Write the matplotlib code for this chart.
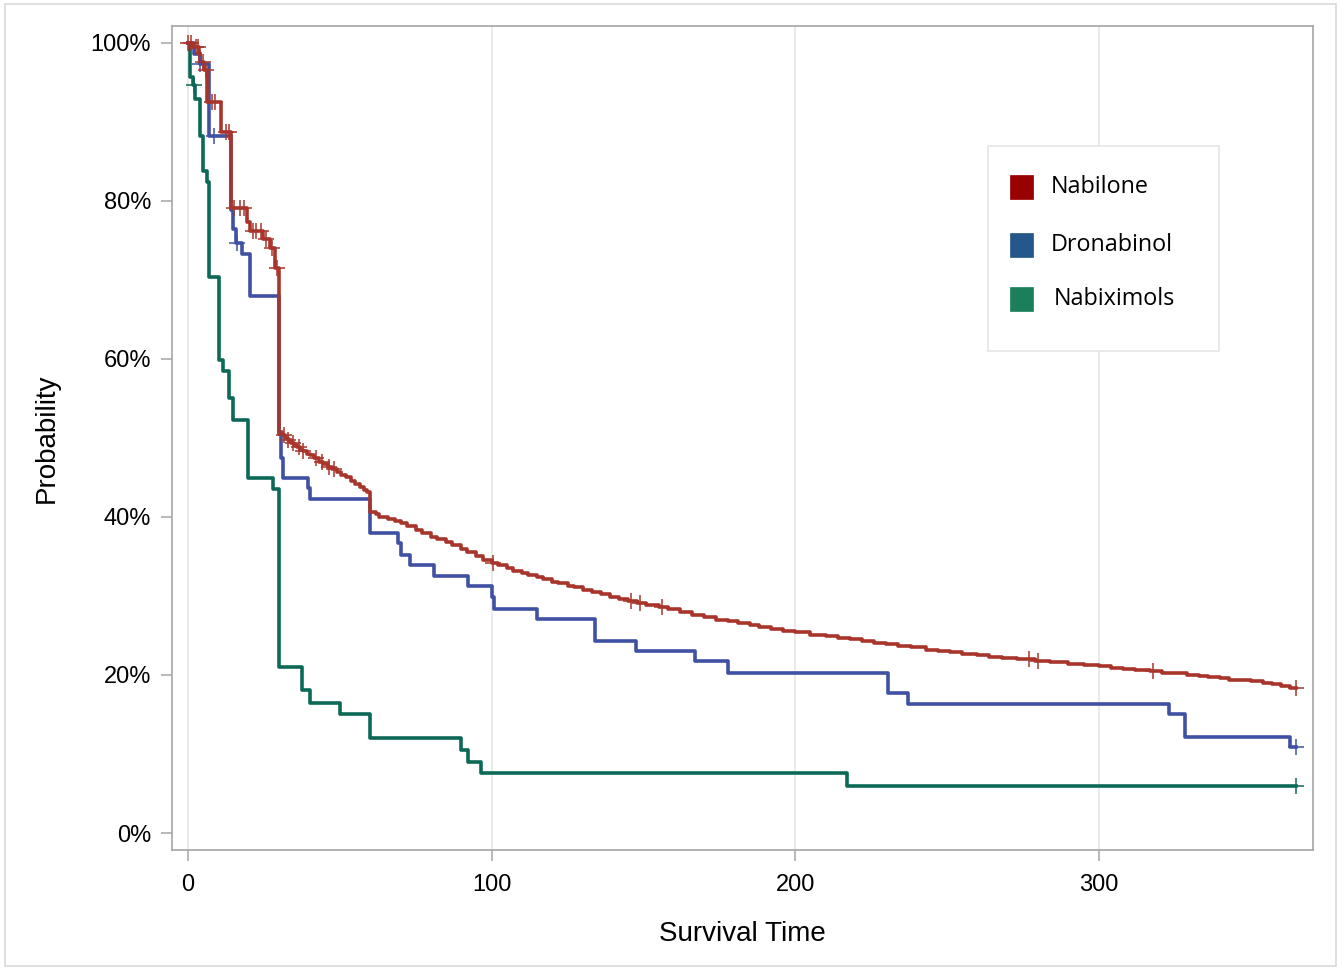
import numpy as np
import matplotlib
matplotlib.use("Agg")
import matplotlib.pyplot as plt
from matplotlib.patches import Rectangle

plt.rcParams["font.family"] = ["Liberation Sans", "DejaVu Sans"]

# Kaplan-Meier curves (time in days, survival in %)
nabilone_t = [0, 1.5, 3.5, 4, 5.3, 6.3, 10.9, 14, 19.4, 20.4, 24.7, 27, 28.7,
              30, 31, 32, 33, 34, 35, 36, 37, 38, 39, 40, 41.5, 43, 44.5, 46, 47.5,
              49, 50.5, 52, 53.5, 55, 56.5, 58, 59,
              60, 62, 63, 66, 68, 70, 72, 75, 77, 80, 82, 85, 87, 90, 92, 95, 97,
              100, 102, 105, 107, 110, 112, 115, 117, 120, 122, 125, 127, 130, 133,
              136, 139, 142, 145, 148, 151, 155, 158, 162, 166, 170, 174, 178, 181,
              185, 188, 192, 196, 200, 205, 210, 214, 218, 222, 226, 230, 234, 238,
              243, 247, 251, 255, 260, 264, 268, 273, 279, 284, 290, 295, 300, 304,
              308, 312, 317, 321, 325, 329, 333, 336, 340, 343, 347, 350, 354, 357,
              360, 363, 365]
nabilone_s = [100, 99.5, 98.7, 97.6, 96.6, 92.5, 88.7, 79.1, 77.3, 76.2, 75.2, 74.0, 71.5,
              50.7, 50.3, 50.0, 49.7, 49.4, 49.1, 48.8, 48.5, 48.3, 48.0, 47.8, 47.4, 47.0, 46.7, 46.3, 46.0,
              45.7, 45.3, 45.0, 44.6, 44.2, 43.8, 43.4, 43.1,
              40.6, 40.3, 40.0, 39.7, 39.5, 39.2, 38.9, 38.4, 38.0, 37.5, 37.2, 36.8, 36.5, 35.9, 35.5, 35.0, 34.6,
              34.1, 33.9, 33.5, 33.2, 32.9, 32.7, 32.4, 32.2, 31.8, 31.6, 31.3, 31.1, 30.8, 30.5,
              30.2, 29.9, 29.6, 29.4, 29.1, 28.9, 28.6, 28.3, 28.0, 27.6, 27.3, 27.0, 26.8, 26.6,
              26.3, 26.1, 25.8, 25.6, 25.4, 25.1, 24.9, 24.7, 24.5, 24.3, 24.1, 23.9, 23.7, 23.5,
              23.2, 23.0, 22.9, 22.7, 22.5, 22.3, 22.2, 22.0, 21.8, 21.6, 21.4, 21.2, 21.1, 20.9,
              20.8, 20.6, 20.5, 20.3, 20.2, 20.0, 19.9, 19.7, 19.6, 19.4, 19.3, 19.2, 19.0, 18.8,
              18.6, 18.3, 18.3]
nabilone_cens = [0, 1, 2.5, 3.3, 5, 6, 8, 9, 12.5, 13.5, 15, 17, 18.5, 21.5, 22.5,
                 24, 25.5, 27.5, 29.3, 31.5, 33, 34.5, 36.5, 38, 42, 44, 46.5, 48,
                 100.5, 146, 149, 156, 277, 280, 318, 365]

dronabinol_t = [0, 2, 4, 7, 14, 14.8, 15.8, 17.7, 20.4, 30, 30.6, 31.3, 39.5, 40.2,
                60, 69, 70, 73, 81, 92.2, 100, 100.8, 115, 134, 147.5, 167, 178,
                230.5, 237, 323, 328.5, 363, 365]
dronabinol_s = [100, 98.6, 97.3, 88.2, 78.8, 76.4, 74.6, 73.3, 67.9, 50.5, 47.4, 44.9, 43.6, 42.2,
                37.9, 36.7, 35.2, 33.9, 32.5, 31.2, 29.8, 28.4, 27.1, 24.3, 23.0, 21.7, 20.3,
                17.7, 16.3, 15.0, 12.2, 10.9, 10.9]
dronabinol_cens = [4, 8.5, 16, 365]

nabiximols_t = [0, 0.7, 1.5, 2.3, 4, 5, 6.3, 6.8, 10.2, 11.5, 13.5, 14.8, 19.8, 28, 30,
                37.5, 40, 50, 60, 90, 92.2, 96.5, 217, 365]
nabiximols_s = [100, 95.7, 94.7, 92.9, 88.2, 83.8, 82.4, 70.3, 59.8, 58.5, 55.1, 52.2, 44.9, 43.5, 21.0,
                18.1, 16.4, 15.0, 12.0, 10.5, 9.0, 7.6, 5.9, 5.9]
nabiximols_cens = [2, 365]

names = ["Nabilone", "Dronabinol", "Nabiximols"]
line_colors = ["#A8352B", "#3F51A2", "#0C6857"]
legend_colors = ["#990000", "#25578A", "#1B7F5C"]

curves = [(nabilone_t, nabilone_s, nabilone_cens),
          (dronabinol_t, dronabinol_s, dronabinol_cens),
          (nabiximols_t, nabiximols_s, nabiximols_cens)]

fig = plt.figure(figsize=(13.43, 9.68), dpi=100)
ax = fig.add_axes([0.1281, 0.1219, 0.8496, 0.8512])

# draw in reverse so Nabilone sits on top
for (t, s, cens), col in reversed(list(zip(curves, line_colors))):
    t = np.array(t)
    s = np.array(s) / 100
    ax.step(t, s, where="post", color=col, lw=2.6, zorder=3)
    idx = np.searchsorted(t, cens, side="right") - 1
    ax.plot(cens, s[idx], ls="none", marker="+", ms=11, mew=1.1, color=col, zorder=4)

ax.set_xlim(-5.3, 370.6)
ax.set_ylim(-0.0215, 1.021)
ax.set_xticks([0, 100, 200, 300])
ax.set_yticks([0, 0.2, 0.4, 0.6, 0.8, 1.0])
ax.set_yticklabels(["0%", "20%", "40%", "60%", "80%", "100%"])
ax.grid(axis="x", color="#e4e4e4", lw=1.1, zorder=0)
ax.set_axisbelow(True)

for sp in ax.spines.values():
    sp.set_color("#a6a6a6")
    sp.set_linewidth(1.2)
ax.tick_params(axis="both", direction="out", length=8, width=1.1, color="#a6a6a6",
               labelsize=17, labelcolor="black", pad=7)
ax.tick_params(axis="x", pad=9)

ax.set_xlabel("Survival Time", fontsize=20, labelpad=18)
ax.set_ylabel("Probability", fontsize=20, labelpad=22)

# legend drawn by hand to match the boxed layout
ax.add_patch(Rectangle((0.715, 0.606), 0.203, 0.2485, transform=ax.transAxes,
                       facecolor="white", edgecolor="#e3e3e3", lw=1.1, zorder=5))
leg_y = [0.8045, 0.7345, 0.669]
leg_x = [0.7704, 0.7704, 0.773]
for name, col, y, x in zip(names, legend_colors, leg_y, leg_x):
    ax.add_patch(Rectangle((0.7345, y - 0.0145), 0.0201, 0.029, transform=ax.transAxes,
                           facecolor=col, edgecolor=col, lw=0.5, zorder=6))
    ax.text(x, y, name, transform=ax.transAxes, fontsize=16.8, va="center", ha="left",
            family=["Open Sans", "DejaVu Sans"], zorder=6)

# light frame around the whole figure
fig.add_artist(Rectangle((5 / 1343, 2 / 968), 1331 / 1343, 962 / 968, transform=fig.transFigure,
                         fill=False, edgecolor="#d9d9d9", lw=1.2))

fig.savefig("out.png", dpi=100)
